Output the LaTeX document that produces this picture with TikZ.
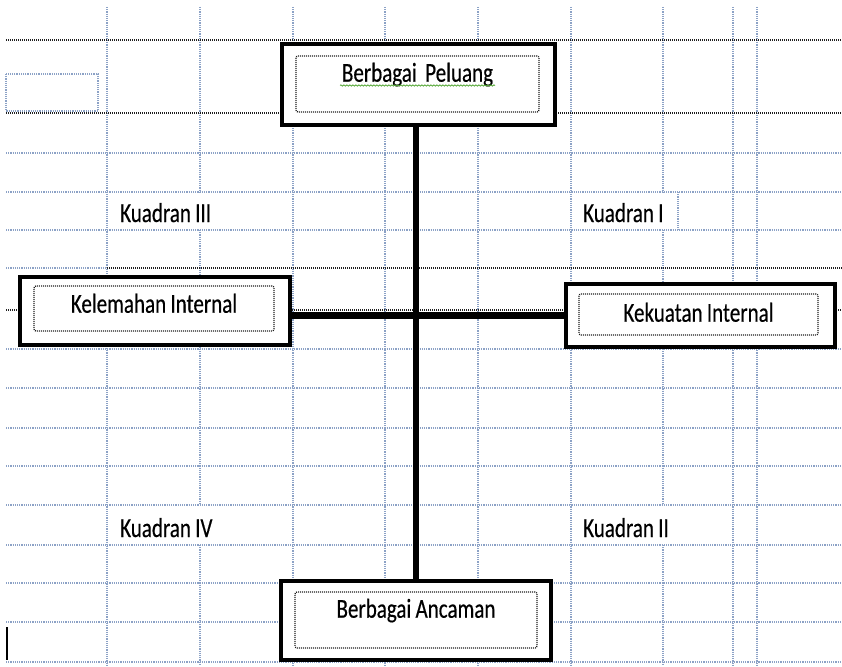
\documentclass[tikz,border=0pt]{standalone}
\usepackage{fontspec}
\setmainfont[FakeStretch=0.77, WordSpace=0.9, FakeBold=0.4]{Carlito}
\usetikzlibrary{positioning,calc,decorations.pathmorphing}
\definecolor{gridblue}{RGB}{140,162,198}
\definecolor{griddark}{RGB}{30,30,30}
\definecolor{spellgreen}{RGB}{90,170,60}

\begin{document}
\begin{tikzpicture}[x=1pt, y=-1pt,
    every node/.style={font=\fontsize{27.3}{30}\selectfont},
    garis/.style={gridblue, line width=1.2pt, dash pattern=on 1.2pt off 1pt},
    garistebal/.style={griddark, line width=1.5pt, dash pattern=on 1pt off 1pt},
    kotak/.style={draw, line width=4pt, fill=white, inner sep=0pt},
    isi/.style={draw, griddark, text=black, line width=1.3pt, dash pattern=on 1pt off 1pt, rounded corners=2pt, inner sep=0pt},
    kuadran/.style={anchor=base west, inner sep=0pt}]
    \useasboundingbox (0,0) rectangle (842,666);
    \fill[white] (0,0) rectangle (842,666);
    \foreach \y in {153,192,230,349,388,428,466,505,545,583,622,662}
        \draw[garis] (6,\y) -- (842,\y);
    \foreach \x in {107,293,385,478,571,733,757}
        \draw[garis] (\x,7) -- (\x,666);
    \foreach \x in {200,663} {
        \draw[garis] (\x,7) -- (\x,192);
        \draw[garis] (\x,230) -- (\x,505);
        \draw[garis] (\x,545) -- (\x,666);
    }
    \draw[garis] (678,192) -- (678,230);
    \draw[garis] (6,268) -- (107,268);
    \draw[garis] (6,74) rectangle (98,111);
    \foreach \y in {40,113,310}
        \draw[garistebal] (6,\y) -- (842,\y);
    \draw[garistebal] (107,268) -- (842,268);

    \node[kotak, minimum width=273pt, minimum height=81pt] (peluang) at (418.5,84.5) {};
    \node[isi, minimum width=243pt, text height=25.7pt, text depth=30.3pt] (peluang-in) at (417.5,84) {Berbagai\ \ Peluang};
    \node[kotak, minimum width=270pt, minimum height=68pt] (kelemahan) at (155,311) {};
    \node[isi, minimum width=240pt, text height=26.7pt, text depth=18.3pt] (kelemahan-in) at (154,308.5) {Kelemahan Internal};
    \node[kotak, minimum width=269pt, minimum height=63pt] (kekuatan) at (700.5,315.5) {};
    \node[isi, minimum width=239pt, text height=27.7pt, text depth=13.3pt] (kekuatan-in) at (698.5,314.5) {Kekuatan Internal};
    \node[kotak, minimum width=270pt, minimum height=79pt] (ancaman) at (416,620.5) {};
    \node[isi, minimum width=242pt, text height=25.7pt, text depth=30.3pt] (ancaman-in) at (416,620) {Berbagai Ancaman};

    \draw[line width=5.5pt] (peluang.south -| ancaman.north) -- (ancaman.north);
    \draw[line width=6.5pt] (kelemahan.east |- kekuatan.west) -- (kekuatan.west);

    \draw[spellgreen, line width=0.8pt, decorate, decoration={snake, amplitude=0.7pt, segment length=3pt}] (340,85.5) -- (495,85.5);

    \node[kuadran] (k3) at (120,222) {Kuadran III};
    \node[kuadran] (k1) at (583,222) {Kuadran I};
    \node[kuadran] (k4) at (120,537) {Kuadran IV};
    \node[kuadran] (k2) at (583,537) {Kuadran II};

    \draw[line width=2pt] (7,627) -- (7,660);
\end{tikzpicture}
\end{document}
